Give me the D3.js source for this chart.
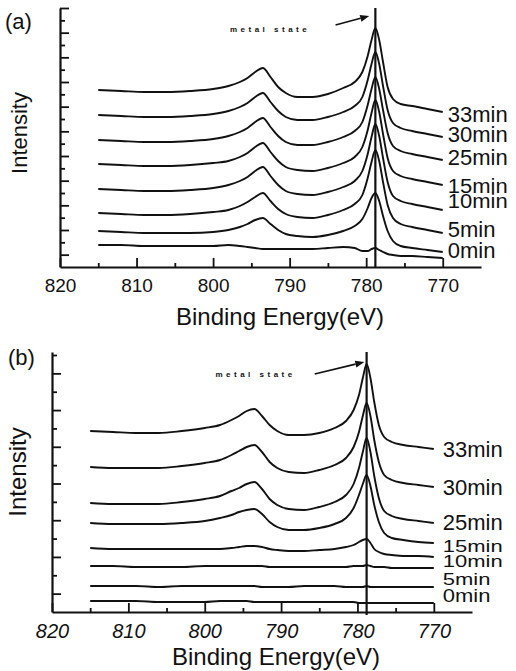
<!DOCTYPE html>
<html>
<head>
<meta charset="utf-8">
<script src="https://cdn.jsdelivr.net/npm/d3@7"></script>
<style>
  body { margin: 0; background: #fff; }
  svg { display: block; }
  text { font-family: "Liberation Sans", Arial, sans-serif; fill: #111; }
</style>
</head>
<body>
<svg id="chart" width="516" height="671"></svg>
<script>
// binding energy grid (eV), shared by every spectrum
const energy = [815, 812, 809, 806, 803, 800, 798, 796.5, 795.5, 794.5, 793.5, 792.5, 791.5, 790.5, 789,
  787, 785, 783, 781.5, 780.5, 779.8, 779.3, 778.8, 778.3, 777.8, 777.2, 776.5, 775.5, 774, 772, 770];

const timeLabels = ["33min", "30min", "25min", "15min", "10min", "5min", "0min", ""];

// panel (a) intensities, stacked (a.u.)
const specA33 = [177,176,175,175,176,178,181,185,189,195,199,190,180,174,170,170,173,179,185,195,211,227,239,227,205,180,168,163,161,158,155];
const specA30 = [152,151,150,150,151,153,156,160,164,170,174,165,156,150,147,147,150,155,161,170,187,203,215,203,181,157,144,139,136,133,130];
const specA25 = [127,126,125,125,126,128,131,135,139,145,149,140,131,125,122,122,125,130,136,145,162,178,190,178,157,134,121,116,113,110,107];
const specA15 = [103,102,101,101,102,104,106,110,114,120,124,115,106,100,97,96,99,104,110,120,137,154,167,155,133,109,96,91,88,85,82];
const specA10 = [78,77,76,76,77,79,82,86,90,96,100,91,82,76,73,72,75,80,86,96,113,130,143,131,109,85,71,66,63,60,57];
const specA05 = [54,53,52,52,53,55,57,61,65,70,74,66,58,53,50,49,52,57,63,72,89,105,117,106,85,62,49,43,40,37,34];
const specA00 = [36,35,34,34,34,35,37,40,43,47,49,43,37,33,31,30,32,36,41,48,59,69,74,66,51,36,26,21,19,17,15];
const specABase = [22,22,21,21,21,21,22,21,20,19,18,18,18,18,18,18,19,20,19,16,16,18,19,17,15,13,12,11,11,10,9];

// panel (b) intensities, stacked (a.u.)
const specB33 = [181,180,179,179,181,184,187,192,196,201,203,196,187,181,177,177,179,184,191,202,217,234,248,234,210,187,175,170,167,165,163];
const specB30 = [145,144,144,144,146,149,152,157,161,165,167,160,150,144,140,139,142,147,154,165,180,196,209,196,172,150,137,132,129,127,125];
const specB25 = [109,108,108,108,110,113,116,121,124,128,130,123,113,107,103,102,105,110,117,128,144,160,174,160,136,114,101,96,93,91,89];
const specB15 = [89,88,88,88,89,91,94,97,100,102,103,98,90,85,82,82,84,88,94,104,117,128,137,126,107,90,79,74,72,70,69];
const specB10 = [64,63,63,63,63,63,63,64,65,66,66,65,63,62,61,61,62,63,65,67,70,72,73,69,63,60,58,57,56,56,55];
const specB05 = [46,46,45,45,45,46,46,46,46,46,46,46,45,45,45,45,45,45,45,46,46,46,47,46,45,45,45,44,44,44,44];
const specB00 = [26,26,26,25,26,26,26,26,26,26,26,25,25,25,25,26,26,26,25,25,25,25,26,25,25,25,25,25,25,25,25];
const specBBase = [11,11,11,10,10,10,11,11,11,11,10,10,10,10,10,10,10,10,10,10,9,9,9,9,9,9,9,9,9,9,9];

// where each time label sits (same a.u. as the spectra)
const labelLevelA = [145, 125, 102, 74, 59, 30, 9];
const labelLevelB = [155, 117, 82, 60, 45, 27, 10];

const xMajor = [820, 810, 800, 790, 780, 770];
const xMinor = [815, 805, 795, 785, 775];
const metalLine = 778.8;

const svg = d3.select("#chart");

function drawPanel(cfg) {
  const x = d3.scaleLinear().domain([820, 765]).range(cfg.xRange);
  const y = d3.scaleLinear().domain(cfg.yDomain).range(cfg.yRange);
  const g = svg.append("g");

  // y axis, ticks pointing inward, alternating long/short
  const yTicks = d3.range(1, cfg.nTicks + 1).map(i => i * cfg.tickStep);
  const yMaj = yTicks.filter((d, i) => i % 2 === 0);
  const yMin = yTicks.filter((d, i) => i % 2 === 1);
  g.append("g").attr("transform", `translate(${cfg.xRange[0]},0)`)
    .call(d3.axisLeft(y).tickValues(yMaj).tickSizeInner(-9).tickSizeOuter(0).tickFormat(""));
  g.append("g").attr("transform", `translate(${cfg.xRange[0]},0)`)
    .call(d3.axisLeft(y).tickValues(yMin).tickSizeInner(-5).tickSizeOuter(0).tickFormat(""))
    .select(".domain").remove();

  // x axis
  const gx = g.append("g").attr("transform", `translate(0,${cfg.yRange[0]})`)
    .call(d3.axisBottom(x).tickValues(xMajor).tickSizeInner(-9).tickSizeOuter(0).tickPadding(12).tickFormat(d3.format("d")));
  gx.selectAll("text")
    .style("font-size", cfg.tickFont + "px")
    .style("font-style", cfg.italic ? "italic" : "normal");
  g.append("g").attr("transform", `translate(0,${cfg.yRange[0]})`)
    .call(d3.axisBottom(x).tickValues(xMinor).tickSizeInner(-4).tickSizeOuter(0).tickFormat(""))
    .select(".domain").remove();

  g.selectAll(".domain").attr("stroke", "#111").attr("stroke-width", 2.2);
  g.selectAll(".tick line").attr("stroke", "#111").attr("stroke-width", 1.8);

  // spectra
  const line = d3.line()
    .x((d, i) => x(energy[i]))
    .y(d => y(d))
    .curve(d3.curveMonotoneX);

  g.selectAll("path.spec")
    .data(cfg.series)
    .enter()
    .append("path")
    .attr("class", "spec")
    .attr("d", line)
    .attr("fill", "none")
    .attr("stroke", "#111")
    .attr("stroke-width", 1.9);

  // metal state marker
  g.append("line")
    .attr("x1", x(metalLine)).attr("x2", x(metalLine))
    .attr("y1", cfg.yRange[0] + cfg.lineOver).attr("y2", cfg.yRange[1])
    .attr("stroke", "#111").attr("stroke-width", 2.2);

  g.append("text")
    .attr("x", x(cfg.noteAt[0])).attr("y", y(cfg.noteAt[1]))
    .style("font-size", "8px")
    .style("font-weight", "bold")
    .style("letter-spacing", "3.5px")
    .text("metal state");

  const a0 = [x(cfg.arrow[0]), y(cfg.arrow[1])];
  const a1 = [x(cfg.arrow[2]), y(cfg.arrow[3])];
  const ang = Math.atan2(a1[1] - a0[1], a1[0] - a0[0]);
  const back = [a1[0] - 9 * Math.cos(ang), a1[1] - 9 * Math.sin(ang)];
  g.append("line")
    .attr("x1", a0[0]).attr("y1", a0[1]).attr("x2", back[0]).attr("y2", back[1])
    .attr("stroke", "#111").attr("stroke-width", 1.6);
  g.append("path")
    .attr("d", `M${a1[0]},${a1[1]}L${back[0] - 3.5 * Math.sin(ang)},${back[1] + 3.5 * Math.cos(ang)}L${back[0] + 3.5 * Math.sin(ang)},${back[1] - 3.5 * Math.cos(ang)}Z`)
    .attr("fill", "#111");

  // time labels (the crowded ones are squeezed vertically, as in the print)
  g.selectAll("text.lab")
    .data(cfg.labelLevels)
    .enter()
    .append("text")
    .attr("class", "lab")
    .attr("transform", (d, i) => `translate(${x(770) + cfg.labelDx},${y(d)}) scale(1,${cfg.labelSquash[i]})`)
    .style("font-size", "22px")
    .text((d, i) => timeLabels[i]);

  // axis titles and panel tag
  g.append("text")
    .attr("x", (cfg.xRange[0] + 440) / 2 + 30).attr("y", cfg.xTitleY)
    .attr("text-anchor", "middle")
    .style("font-size", "24px")
    .text("Binding Energy(eV)");

  g.append("text")
    .attr("transform", `translate(${cfg.yTitleX},${cfg.yTitleMid}) rotate(-90)`)
    .attr("text-anchor", "middle")
    .style("font-size", cfg.yTitleFont + "px")
    .text("Intensity");

  g.append("text")
    .attr("x", cfg.tag[0]).attr("y", cfg.tag[1])
    .style("font-size", "22px")
    .text(cfg.tagText);
}

drawPanel({
  xRange: [60, 481],
  yDomain: [0, 259],
  yRange: [267, 8],
  nTicks: 21,
  tickStep: 259 / 21,
  tickFont: 19,
  italic: false,
  series: [specA33, specA30, specA25, specA15, specA10, specA05, specA00, specABase],
  labelLevels: labelLevelA,
  labelSquash: [1, 1, 1, 0.92, 0.92, 1, 1],
  labelDx: 5,
  lineOver: 0,
  noteAt: [797.8, 235],
  arrow: [784.0, 242, 779.6, 251],
  xTitleY: 325,
  yTitleX: 27,
  yTitleMid: 133,
  yTitleFont: 22,
  tag: [5, 29],
  tagText: "(a)"
});

drawPanel({
  xRange: [52, 472],
  yDomain: [0, 260],
  yRange: [612, 352],
  nTicks: 14,
  tickStep: 257 / 14,
  tickFont: 20,
  italic: true,
  series: [specB33, specB30, specB25, specB15, specB10, specB05, specB00, specBBase],
  labelLevels: labelLevelB,
  labelSquash: [1, 1, 1, 0.78, 0.78, 0.78, 0.8],
  labelDx: 9,
  lineOver: 3,
  noteAt: [798.6, 235],
  arrow: [785.6, 238, 779.1, 250],
  xTitleY: 665,
  yTitleX: 26,
  yTitleMid: 472,
  yTitleFont: 24,
  tag: [8, 365],
  tagText: "(b)"
});
</script>
</body>
</html>
